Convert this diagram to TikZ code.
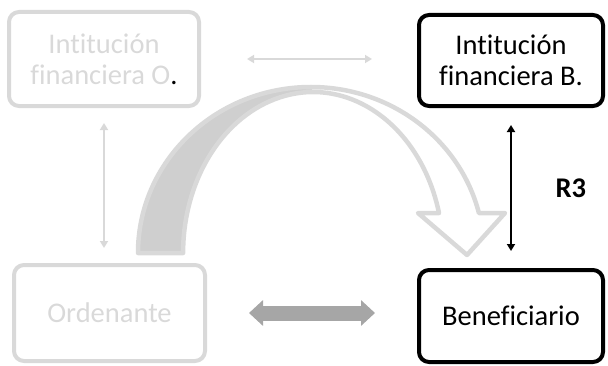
\documentclass[tikz,border=0pt]{standalone}
\usepackage{fontspec}
\setmainfont{Carlito}[Ligatures=NoCommon]
\usetikzlibrary{arrows.meta,positioning,calc}
\definecolor{faded}{HTML}{D9D9D9}
\definecolor{arcfill}{HTML}{CFCFCF}
\definecolor{blockgray}{HTML}{A6A6A6}
\begin{document}
\begin{tikzpicture}[x=1pt, y=1pt, line join=round,
		box/.style={draw, rounded corners=10pt, line width=4pt, align=center, inner sep=0pt,
			font=\fontsize{28.5}{31}\selectfont},
		fadedbox/.style={box, draw=faded, text=faded},
		thinarrow/.style={line width=2.5pt, {Triangle[length=7pt,width=8pt]}-{Triangle[length=7pt,width=8pt]}}]
	\useasboundingbox (0,0) rectangle (608,365);
	
	% Curved arrow, shaded back half
	\fill[arcfill] (138,112) arc[start angle=180, end angle=90, x radius=173pt, y radius=166pt]
	-- (313,273) arc[start angle=90, end angle=180, x radius=130pt, y radius=161pt] -- cycle;
	% Curved arrow outline
	\draw[faded, line width=4.5pt] (138,112)
	arc[start angle=180, end angle=13.9, x radius=173pt, y radius=166pt]
	-- (505,152) -- (467,110) -- (418,152) -- (439,152)
	arc[start angle=14.4, end angle=180, x radius=130pt, y radius=161pt] -- cycle;
	
	% Boxes
	\node[fadedbox, minimum width=190pt, minimum height=94pt] (instO) at (104,306)
	{Intitución\\financiera O{\color{black}.}};
	\node[box, minimum width=184pt, minimum height=91pt] (instB) at (511,304.5)
	{Intitución\\financiera B.};
	\node[fadedbox, minimum width=191pt, minimum height=96pt] (orden) at (109.5,52) {Ordenante};
	\node[box, minimum width=184pt, minimum height=92pt] (benef) at (511,49) {Beneficiario};
	
	% Connectors
	\draw[thinarrow, faded, shorten <=46pt, shorten >=45pt] (instO.east) -- (instO.east -| instB.west);
	\draw[thinarrow, faded, shorten <=15pt, shorten >=15pt] (instO.south) -- (instO.south |- orden.north);
	\draw[thinarrow, black, shorten <=17pt, shorten >=17pt] (instB.south) -- (instB.south |- benef.north)
	node[midway, right=40pt, font=\fontsize{28.5}{31}\selectfont\bfseries] (r3) {R3};
	\draw[blockgray, line width=15pt, shorten <=42pt, shorten >=42pt,
	{Triangle[length=14pt,width=25pt]}-{Triangle[length=14pt,width=25pt]}] (orden.east) -- (orden.east -| benef.west);
\end{tikzpicture}
\end{document}
